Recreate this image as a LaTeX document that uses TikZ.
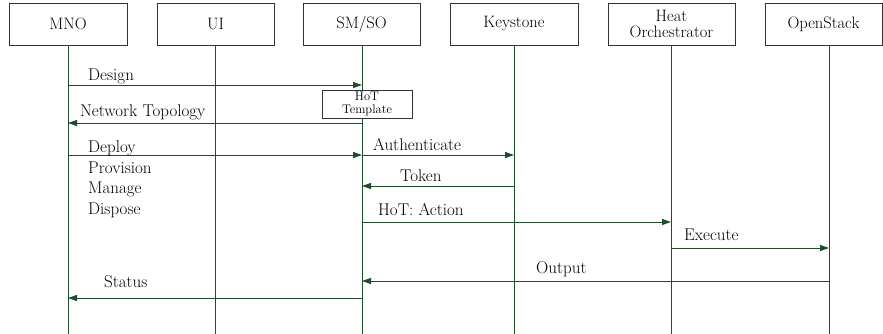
\documentclass[tikz,border=0pt]{standalone}
\usetikzlibrary{arrows.meta}
\definecolor{lg}{RGB}{28,78,44}
\definecolor{bx}{RGB}{50,50,50}
\begin{document}
\begin{tikzpicture}[x=1pt,y=-1pt,
  actor/.style={draw=bx,line width=0.9pt,minimum height=42pt,inner sep=0pt,align=center,font=\fontsize{16.5}{16.5}\selectfont},
  life/.style={draw=lg,line width=0.9pt},
  msg/.style={draw=lg,line width=0.9pt,-{Triangle[length=9pt,width=6pt]}},
  lbl/.style={anchor=base west,inner sep=0pt,font=\fontsize{17}{18}\selectfont},
  note/.style={draw=bx,line width=0.9pt,minimum width=90pt,minimum height=28pt,inner sep=0pt,align=center,font=\fontsize{12.5}{12.5}\selectfont}]
\useasboundingbox (0,0) rectangle (883,334);
% actors
\node[actor,minimum width=118pt] (mno) at (68,24) {MNO};
\node[actor,minimum width=117pt] (ui) at (215.5,24) {UI};
\node[actor,minimum width=117pt] (sm) at (361.5,24) {SM/SO};
\node[actor,minimum width=128pt] (ks) at (514,24) {Keystone};
\node[actor,minimum width=127pt] (heat) at (671.5,24) {Heat\\Orchestrator};
\node[actor,minimum width=117pt] (os) at (823.5,24) {OpenStack};
% lifeline ends
\coordinate (mnoE) at (68,334);
\coordinate (uiE) at (215,334);
\coordinate (smE) at (362,334);
\coordinate (ksE) at (514,334);
\coordinate (heatE) at (671,334);
\coordinate (osE) at (829,334);
\draw[life] (68,45) -- (mnoE);
\draw[life] (215,45) -- (uiE);
\draw[life] (362,45) -- (smE);
\draw[life] (514,45) -- (ksE);
\draw[life] (671,45) -- (heatE);
\draw[life] (829,45) -- (osE);
% message points
\coordinate (m1) at (68,85);   \coordinate (s1) at (362,85);
\coordinate (s2) at (362,123); \coordinate (m2) at (68,123);
\coordinate (m3) at (68,155);  \coordinate (s3) at (362,155);
\coordinate (s4) at (362,155); \coordinate (k4) at (514,155);
\coordinate (k5) at (514,186); \coordinate (s5) at (362,186);
\coordinate (s6) at (362,222); \coordinate (h6) at (671,222);
\coordinate (h7) at (671,248); \coordinate (o7) at (829,248);
\coordinate (o8) at (829,281); \coordinate (s8) at (362,281);
\coordinate (s9) at (362,298); \coordinate (m9) at (68,298);
\draw[msg] (m1) -- (s1);
\draw[msg] (s2) -- (m2);
\draw[msg] (m3) -- (s3);
\draw[msg] (s4) -- (k4);
\draw[msg] (k5) -- (s5);
\draw[msg] (s6) -- (h6);
\draw[msg] (h7) -- (o7);
\draw[msg] (o8) -- (s8);
\draw[msg] (s9) -- (m9);
% note
\node[note,fill=white] (hot) at (367,104) {HoT\\Template};
% labels
\node[lbl] (lDesign) at (88,81) {Design};
\node[lbl] (lNet) at (80,117) {Network Topology};
\node[lbl] (lDeploy) at (88,152) {Deploy};
\node[lbl] (lProv) at (88,173) {Provision};
\node[lbl] (lMan) at (88,193.5) {Manage};
\node[lbl] (lDisp) at (88,214) {Dispose};
\node[lbl] (lAuth) at (373,150) {Authenticate};
\node[lbl] (lTok) at (400,181) {Token};
\node[lbl] (lAct) at (378,215) {HoT: Action};
\node[lbl] (lExe) at (684,240) {Execute};
\node[lbl] (lOut) at (536,273) {Output};
\node[lbl] (lStat) at (104,287) {Status};
\end{tikzpicture}
\end{document}
